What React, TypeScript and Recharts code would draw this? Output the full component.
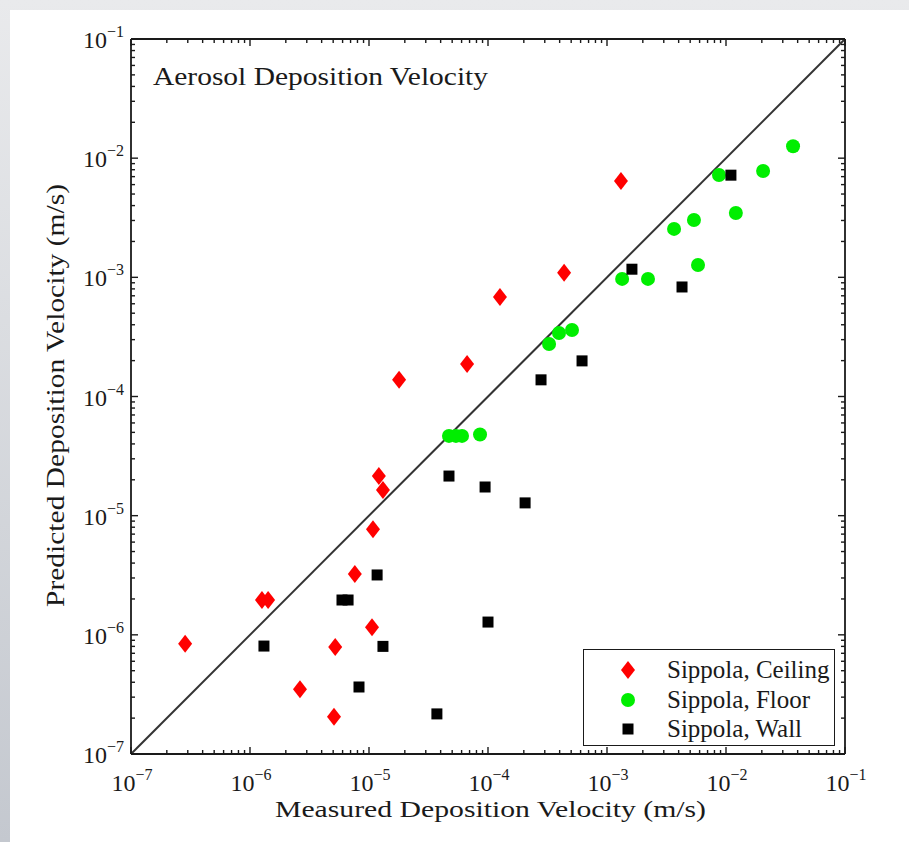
import React from 'react';
import {
  ScatterChart,
  Scatter,
  XAxis,
  YAxis,
  ReferenceLine,
  Legend,
  Customized,
} from 'recharts';

// measured (x) / predicted (y) deposition velocities, m/s
const ceilingMeasured = [2.85e-7, 1.26e-6, 1.42e-6, 2.63e-6, 5.08e-6, 5.2e-6, 7.6e-6, 1.06e-5, 1.08e-5, 1.21e-5, 1.31e-5, 1.79e-5, 6.67e-5, 1.26e-4, 4.36e-4, 1.31e-3];
const ceilingPredicted = [8.4e-7, 1.96e-6, 1.96e-6, 3.5e-7, 2.05e-7, 7.9e-7, 3.24e-6, 1.16e-6, 7.7e-6, 2.15e-5, 1.64e-5, 1.38e-4, 1.87e-4, 6.84e-4, 1.09e-3, 6.43e-3];

const floorMeasured = [4.7e-5, 5.38e-5, 6.05e-5, 8.57e-5, 3.26e-4, 3.95e-4, 5.08e-4, 1.34e-3, 2.21e-3, 3.66e-3, 5.38e-3, 5.82e-3, 8.73e-3, 1.21e-2, 2.05e-2, 3.66e-2];
const floorPredicted = [4.67e-5, 4.67e-5, 4.67e-5, 4.8e-5, 2.76e-4, 3.41e-4, 3.61e-4, 9.7e-4, 9.7e-4, 2.55e-3, 3.03e-3, 1.27e-3, 7.22e-3, 3.47e-3, 7.8e-3, 1.26e-2];

const wallMeasured = [1.31e-6, 5.93e-6, 6.67e-6, 8.24e-6, 1.17e-5, 1.31e-5, 3.72e-5, 4.7e-5, 9.45e-5, 1.0e-4, 2.05e-4, 2.79e-4, 6.17e-4, 1.62e-3, 4.27e-3, 1.1e-2];
const wallPredicted = [8.05e-7, 1.96e-6, 1.96e-6, 3.65e-7, 3.18e-6, 8.0e-7, 2.17e-7, 2.15e-5, 1.74e-5, 1.28e-6, 1.28e-5, 1.38e-4, 1.99e-4, 1.17e-3, 8.3e-4, 7.2e-3];

const seriesNames = ['Sippola, Ceiling', 'Sippola, Floor', 'Sippola, Wall'];

// decade exponents shown on both axes
const exponents = [-7, -6, -5, -4, -3, -2, -1];
const minorSteps = [2, 3, 4, 5, 6, 7, 8, 9];

const FONT = '"Liberation Serif", "Times New Roman", serif';
const INK = '#1a1a1a';

const toPoints = (xs: number[], ys: number[]) => xs.map((x, i) => ({ x, y: ys[i] }));

const ceilingData = toPoints(ceilingMeasured, ceilingPredicted);
const floorData = toPoints(floorMeasured, floorPredicted);
const wallData = toPoints(wallMeasured, wallPredicted);

const tickValues: number[] = [];
exponents.forEach((e, i) => {
  tickValues.push(Math.pow(10, e));
  if (i < exponents.length - 1) minorSteps.forEach((k) => tickValues.push(k * Math.pow(10, e)));
});

const domain: [number, number] = [Math.pow(10, exponents[0]), Math.pow(10, exponents[exponents.length - 1])];

const isMajor = (v: number) => {
  const l = Math.log10(v);
  return Math.abs(l - Math.round(l)) < 1e-6;
};

function PowerLabel({ x, y, exp, anchor }: { x: number; y: number; exp: number; anchor: 'middle' | 'end' }) {
  return (
    <text x={x} y={y} textAnchor={anchor} fontFamily={FONT} fontSize={24} fill={INK}>
      <tspan>10</tspan>
      <tspan dy={-11} fontSize={16}>{'\u2212' + Math.abs(exp)}</tspan>
    </text>
  );
}

// inward tick marks, with power-of-ten labels on the bottom and left sides
function LogTick(props: any) {
  const { x, y, payload, side } = props;
  const v = payload.value;
  const major = isMajor(v);
  const len = major ? 7 : 4;
  const exp = Math.round(Math.log10(v));
  let line;
  if (side === 'bottom') line = <line x1={x} y1={y} x2={x} y2={y - len} />;
  else if (side === 'top') line = <line x1={x} y1={y} x2={x} y2={y + len} />;
  else if (side === 'left') line = <line x1={x} y1={y} x2={x + len} y2={y} />;
  else line = <line x1={x} y1={y} x2={x - len} y2={y} />;
  return (
    <g>
      <g stroke={INK} strokeWidth={1.4}>{line}</g>
      {major && side === 'bottom' && <PowerLabel x={x + 1} y={y + 37} exp={exp} anchor="middle" />}
      {major && side === 'left' && <PowerLabel x={x - 7} y={y + 9} exp={exp} anchor="end" />}
    </g>
  );
}

const Diamond = (p: any) => (
  <polygon
    points={`${p.cx},${p.cy - 9} ${p.cx + 7},${p.cy} ${p.cx},${p.cy + 9} ${p.cx - 7},${p.cy}`}
    fill="#ff0000"
  />
);
const Dot = (p: any) => <circle cx={p.cx} cy={p.cy} r={7} fill="#00ee00" />;
const Square = (p: any) => <rect x={p.cx - 5.5} y={p.cy - 5.5} width={11} height={11} fill="#000000" />;

const legendMarkers = [
  <polygon key="d" points="9,0 16,9 9,18 2,9" fill="#ff0000" />,
  <circle key="c" cx={9} cy={9} r={7} fill="#00ee00" />,
  <rect key="s" x={3.5} y={3.5} width={11} height={11} fill="#000000" />,
];

function LegendBox() {
  return (
    <div
      style={{
        position: 'relative',
        width: 252,
        height: 97,
        boxSizing: 'border-box',
        border: `1.5px solid ${INK}`,
        background: '#ffffff',
        fontFamily: FONT,
        fontSize: 25,
        color: INK,
      }}
    >
      {seriesNames.map((name, i) => (
        <div
          key={name}
          style={{ position: 'absolute', left: 0, top: 5 + i * 29.5, height: 30, display: 'flex', alignItems: 'center' }}
        >
          <svg width={18} height={18} style={{ marginLeft: 35 }}>
            {legendMarkers[i]}
          </svg>
          <span style={{ marginLeft: 30, whiteSpace: 'nowrap' }}>{name}</span>
        </div>
      ))}
    </div>
  );
}

// titles are set in a wide serif: glyphs stretched to the measured widths
function Titles() {
  return (
    <g fontFamily={FONT} fill={INK}>
      <text x={153} y={85} fontSize={25} textLength={335} lengthAdjust="spacingAndGlyphs">
        Aerosol Deposition Velocity
      </text>
      <text x={275} y={817} fontSize={23} textLength={431} lengthAdjust="spacingAndGlyphs">
        Measured Deposition Velocity (m/s)
      </text>
      <text
        x={0}
        y={0}
        fontSize={25}
        textLength={423}
        lengthAdjust="spacingAndGlyphs"
        transform="translate(64 607) rotate(-90)"
      >
        Predicted Deposition Velocity (m/s)
      </text>
    </g>
  );
}

const axisLine = { stroke: INK, strokeWidth: 1.8 };

export default function App() {
  return (
    <div
      style={{
        position: 'absolute',
        left: 0,
        top: 0,
        width: 909,
        height: 842,
        background: 'linear-gradient(180deg, #e9eaec 0%, #c4c8cf 100%)',
      }}
    >
      <div style={{ position: 'absolute', left: 10, top: 10, right: 0, bottom: 0, background: '#ffffff' }} />
      <div style={{ position: 'absolute', left: 0, top: 0 }}>
        <ScatterChart width={909} height={842} margin={{ top: 38, right: 63, bottom: 87, left: 130 }}>
          <XAxis
            type="number"
            dataKey="x"
            scale="log"
            domain={domain}
            ticks={tickValues}
            interval={0}
            height={1}
            tickSize={0}
            tickMargin={0}
            tickLine={false}
            axisLine={axisLine}
            tick={(p: any) => <LogTick {...p} side="bottom" />}
            allowDataOverflow
          />
          <XAxis
            xAxisId="top"
            orientation="top"
            type="number"
            dataKey="x"
            scale="log"
            domain={domain}
            ticks={tickValues}
            interval={0}
            height={1}
            tickSize={0}
            tickMargin={0}
            tickLine={false}
            axisLine={axisLine}
            tick={(p: any) => <LogTick {...p} side="top" />}
            allowDataOverflow
          />
          <YAxis
            type="number"
            dataKey="y"
            scale="log"
            domain={domain}
            ticks={tickValues}
            interval={0}
            width={1}
            tickSize={0}
            tickMargin={0}
            tickLine={false}
            axisLine={axisLine}
            tick={(p: any) => <LogTick {...p} side="left" />}
            allowDataOverflow
          />
          <YAxis
            yAxisId="right"
            orientation="right"
            type="number"
            dataKey="y"
            scale="log"
            domain={domain}
            ticks={tickValues}
            interval={0}
            width={1}
            tickSize={0}
            tickMargin={0}
            tickLine={false}
            axisLine={axisLine}
            tick={(p: any) => <LogTick {...p} side="right" />}
            allowDataOverflow
          />
          <ReferenceLine
            segment={[
              { x: domain[0], y: domain[0] },
              { x: domain[1], y: domain[1] },
            ]}
            stroke="#333333"
            strokeWidth={2}
            ifOverflow="visible"
          />
          <Scatter name={seriesNames[0]} data={ceilingData} shape={Diamond} isAnimationActive={false} />
          <Scatter name={seriesNames[1]} data={floorData} shape={Dot} isAnimationActive={false} />
          <Scatter name={seriesNames[2]} data={wallData} shape={Square} isAnimationActive={false} />
          <Legend
            layout="vertical"
            align="center"
            verticalAlign="middle"
            content={() => <LegendBox />}
            wrapperStyle={{ left: 583, top: 649, width: 252, height: 97 }}
          />
          <Customized component={Titles} />
        </ScatterChart>
      </div>
    </div>
  );
}
